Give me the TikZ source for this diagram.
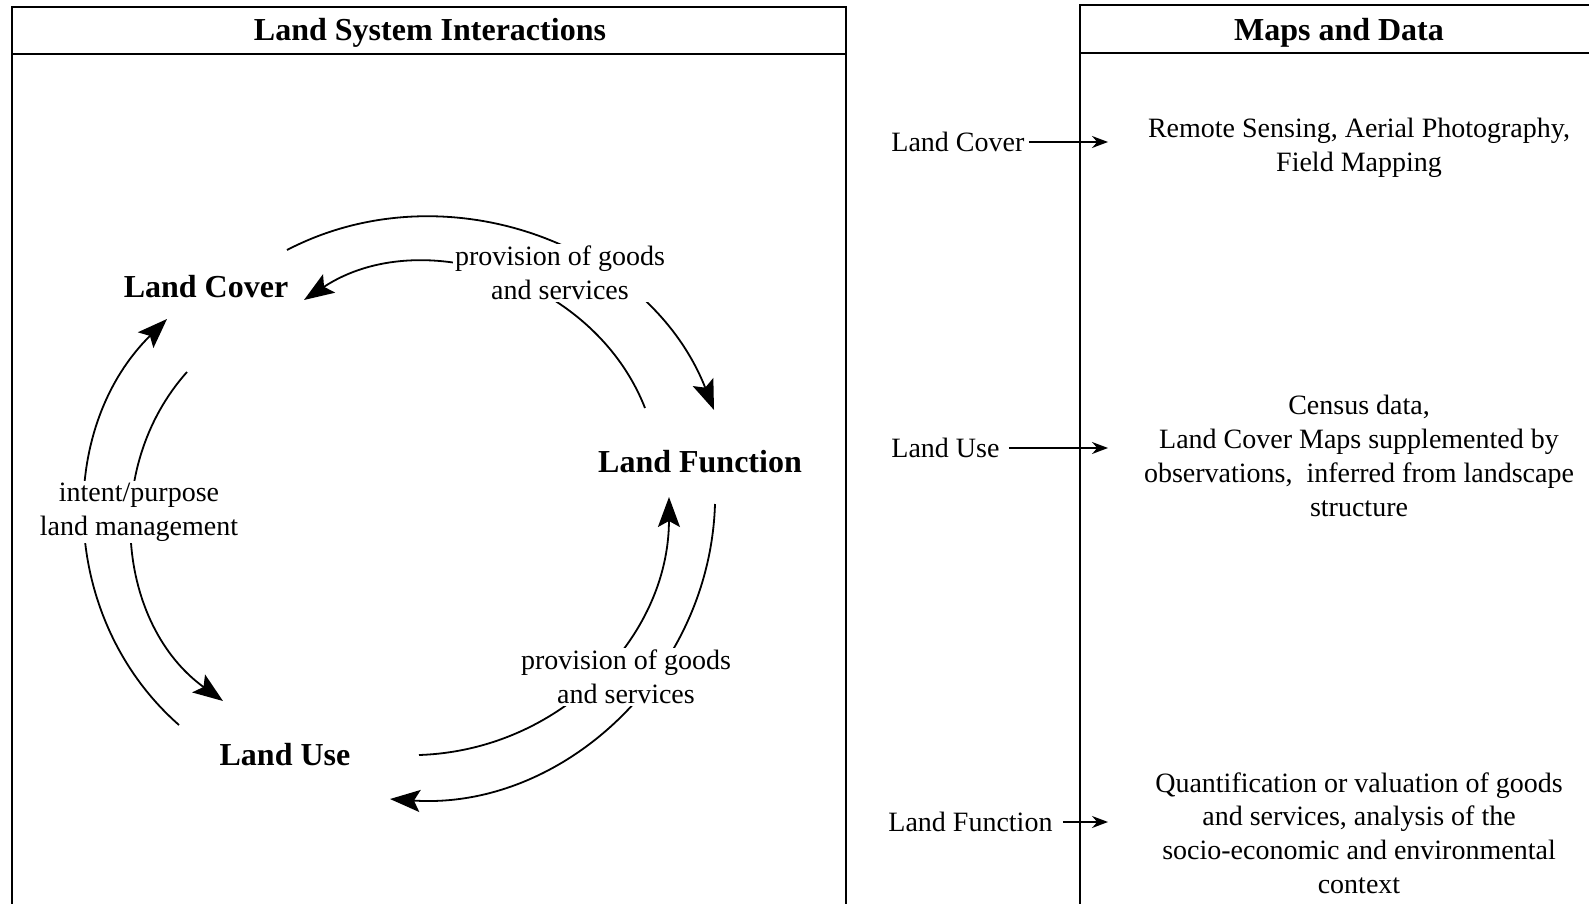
\documentclass[tikz,border=0pt]{standalone}
\usepackage{fontspec}
\setmainfont{Liberation Serif}
\usetikzlibrary{arrows.meta}

\begin{document}
\begin{tikzpicture}[
  x=50pt,y=50pt,
  font=\fontsize{14}{16.9}\selectfont,
  hd/.style={font=\fontsize{16}{19}\selectfont\bfseries,inner sep=1pt},
  sys/.style={font=\fontsize{16}{19}\selectfont\bfseries,inner sep=1pt},
  lab/.style={align=center,fill=white,inner sep=1pt},
  src/.style={anchor=west,inner sep=2pt},
  dat/.style={align=center,inner sep=1pt},
  frame/.style={line width=1.2pt},
  cyc/.style={-{Stealth[length=15pt,width=11pt,inset=3pt]},line width=0.9pt},
  pin/.style={-{Stealth[length=8pt,width=6pt]},line width=0.8pt},
]
\useasboundingbox (0,0) rectangle (15.89,-9.04);
% panels
\draw[frame] (0.12,-0.07) rectangle (8.46,-9.3);
\draw[frame] (0.12,-0.54) -- (8.46,-0.54);
\draw[frame] (10.80,-0.05) rectangle (16.3,-9.3);
\draw[frame] (10.80,-0.53) -- (16.3,-0.53);
\node[hd] (tSys) at (4.30,-0.33) {Land System Interactions};
\node[hd] (tMaps) at (13.39,-0.33) {Maps and Data};
% land system cycle
\node[sys] (cover) at (2.06,-2.87) {Land Cover};
\node[sys] (func) at (7.00,-4.62) {Land Function};
\node[sys] (use) at (2.85,-7.55) {Land Use};
\draw[cyc] ([shift={(0.81,0.37)}]cover.center) to[bend left=48] ([shift={(0.14,0.52)}]func.center);
\draw[cyc] ([shift={(-0.55,0.54)}]func.center) to[bend right=51] ([shift={(0.98,-0.13)}]cover.center);
\draw[cyc] ([shift={(0.15,-0.42)}]func.center) to[bend left=46] ([shift={(1.05,-0.44)}]use.center);
\draw[cyc] ([shift={(1.34,0)}]use.center) to[bend right=44] ([shift={(-0.31,-0.35)}]func.center);
\draw[cyc] ([shift={(-1.06,0.30)}]use.center) to[bend left=47] ([shift={(-0.39,-0.32)}]cover.center);
\draw[cyc] ([shift={(-0.19,-0.85)}]cover.center) to[bend right=48] ([shift={(-0.62,0.54)}]use.center);
% labels over the arcs
\node[lab] (gsTop) at (5.60,-2.73) {provision of goods\\and services};
\node[lab] (gsBot) at (6.26,-6.77) {provision of goods\\and services};
\node[lab] (mgmt) at (1.39,-5.12) {intent/purpose\\land management};
% maps and data
\node[src] (rCover) at (8.87,-1.42) {Land Cover};
\node[src] (rUse) at (8.87,-4.48) {Land Use};
\node[src] (rFunc) at (8.84,-8.22) {Land Function};
\coordinate (pCover) at (11.08,-1.42);
\coordinate (pUse) at (11.08,-4.48);
\coordinate (pFunc) at (11.08,-8.22);
\draw[pin] (rCover) -- (pCover);
\draw[pin] (rUse.east) ++(0.05,0) coordinate (qUse) (qUse) -- (pUse);
\draw[pin] (rFunc.east) ++(0.06,0) coordinate (qFunc) (qFunc) -- (pFunc);
\node[dat] (dCover) at (13.59,-1.48) {Remote Sensing, Aerial Photography,\\Field Mapping};
\node[dat] (dUse) at (13.59,-4.56) {Census data,\\Land Cover Maps supplemented by\\observations,\ \ inferred from landscape\\structure};
\node[dat] (dFunc) at (13.59,-8.33) {Quantification or valuation of goods\\and services, analysis of the\\socio-economic and environmental\\context};
\end{tikzpicture}
\end{document}
